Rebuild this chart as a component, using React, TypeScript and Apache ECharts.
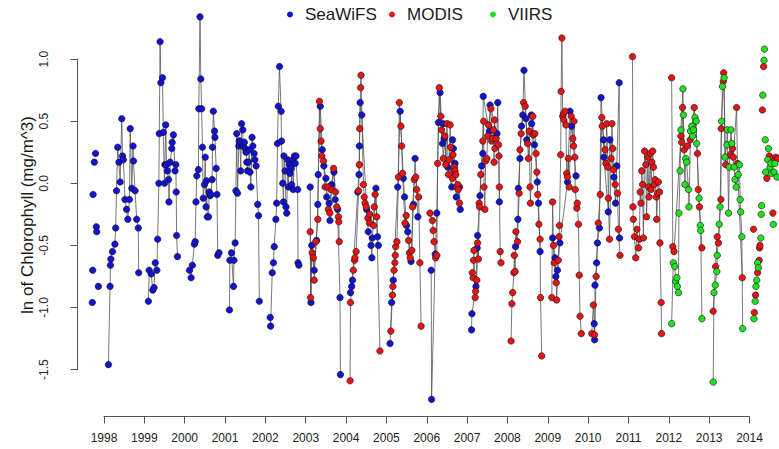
import React, { useEffect, useRef } from "react";
import * as echarts from "echarts";

type P = [number, number];

const seriesNames = ["SeaWiFS", "MODIS", "VIIRS"];
const seriesColors = ["#1212d2", "#e61414", "#22e022"];

// ---- SeaWiFS seasons (decimal year, ln chlorophyll) ----
const seawifs: P[][] = [
  [[1997.71,-0.96],[1997.72,-0.70],[1997.73,-0.09],[1997.76,0.17],[1997.79,0.24],[1997.81,-0.35],[1997.82,-0.39],[1997.86,-0.83]],
  [[1998.11,-1.46],[1998.15,-0.83],[1998.16,-0.66],[1998.17,-0.61],[1998.21,-0.55],[1998.27,-0.49],[1998.29,-0.36],[1998.31,-0.06],[1998.34,0.29],[1998.37,0.17],[1998.40,0.01],[1998.44,0.52],[1998.46,0.22],[1998.48,0.19],[1998.52,-0.13],[1998.56,-0.21],[1998.59,-0.29],[1998.63,-0.13],[1998.65,0.44],[1998.69,-0.04],[1998.72,0.30],[1998.73,0.18],[1998.77,-0.06],[1998.81,-0.29],[1998.85,-0.36],[1998.86,-0.72]],
  [[1999.10,-0.95],[1999.12,-0.70],[1999.17,-0.73],[1999.21,-0.86],[1999.24,-0.84],[1999.27,-0.64],[1999.31,-0.70],[1999.33,-0.45],[1999.36,0.00],[1999.37,0.40],[1999.39,1.14],[1999.41,0.81],[1999.45,0.85],[1999.47,0.41],[1999.50,0.00],[1999.51,0.15],[1999.53,0.47],[1999.55,0.15],[1999.57,0.10],[1999.60,0.03],[1999.61,-0.15],[1999.64,0.17],[1999.68,0.28],[1999.69,0.33],[1999.72,0.39],[1999.76,0.10],[1999.78,0.15],[1999.79,-0.07],[1999.80,-0.42],[1999.82,-0.59]],
  [[2000.12,-0.70],[2000.16,-0.76],[2000.19,-0.66],[2000.24,-0.49],[2000.26,-0.47],[2000.28,-0.15],[2000.30,0.06],[2000.34,0.11],[2000.35,0.60],[2000.38,1.34],[2000.40,0.84],[2000.42,0.60],[2000.44,0.29],[2000.46,-0.12],[2000.49,-0.01],[2000.51,0.21],[2000.53,-0.19],[2000.54,0.02],[2000.56,-0.27],[2000.59,-0.27],[2000.61,-0.07],[2000.63,-0.10],[2000.65,-0.09],[2000.68,0.03],[2000.69,0.29],[2000.71,0.58],[2000.74,0.42],[2000.75,0.37],[2000.78,0.12],[2000.80,-0.09],[2000.82,-0.58],[2000.85,-0.56]],
  [[2001.11,-1.02],[2001.12,-0.62],[2001.16,-0.56],[2001.21,-0.83],[2001.22,-0.62],[2001.25,-0.48],[2001.27,-0.06],[2001.29,0.40],[2001.31,-0.08],[2001.34,0.30],[2001.35,0.34],[2001.37,0.34],[2001.39,0.10],[2001.41,0.48],[2001.44,0.43],[2001.45,0.30],[2001.48,0.33],[2001.50,0.28],[2001.52,0.25],[2001.54,0.17],[2001.56,0.10],[2001.58,0.17],[2001.60,0.27],[2001.62,0.09],[2001.64,-0.03],[2001.67,0.37],[2001.69,0.30],[2001.72,0.24],[2001.74,0.19],[2001.77,0.14],[2001.81,-0.17],[2001.83,-0.26],[2001.85,-0.95]],
  [[2002.12,-1.08],[2002.13,-1.15],[2002.17,-0.72],[2002.20,-0.64],[2002.22,-0.51],[2002.26,-0.29],[2002.28,-0.16],[2002.30,0.32],[2002.32,0.62],[2002.35,0.94],[2002.39,0.58],[2002.40,0.34],[2002.43,0.00],[2002.45,-0.15],[2002.46,0.22],[2002.49,0.10],[2002.51,-0.19],[2002.53,-0.24],[2002.55,0.19],[2002.57,-0.03],[2002.59,0.15],[2002.61,0.08],[2002.64,0.12],[2002.65,-0.01],[2002.68,0.19],[2002.69,-0.05],[2002.72,0.22],[2002.74,0.16],[2002.76,0.22],[2002.80,-0.05],[2002.81,-0.64],[2002.83,-0.66]],
  [[2003.11,-0.03],[2003.13,-0.96],[2003.15,-0.50],[2003.21,-0.70],[2003.27,-0.46],[2003.30,-0.17],[2003.31,0.07],[2003.36,0.62],[2003.41,0.27],[2003.45,0.14],[2003.50,0.04],[2003.52,-0.11],[2003.58,-0.16],[2003.60,-0.30],[2003.64,-0.01],[2003.70,0.09],[2003.73,-0.13],[2003.79,-0.21],[2003.85,-0.92],[2003.86,-1.54]],
  [[2004.11,-0.88],[2004.14,-0.83],[2004.16,-0.78],[2004.29,-0.07],[2004.32,0.07],[2004.33,0.30],[2004.35,0.65],[2004.39,0.55],[2004.51,-0.21],[2004.55,-0.39],[2004.62,-0.50],[2004.64,-0.60],[2004.65,-0.44],[2004.74,-0.04],[2004.78,-0.43],[2004.80,-0.50]],
  [[2005.09,-1.29],[2005.13,-0.96],[2005.17,-0.78],[2005.28,-0.03],[2005.34,0.58],[2005.42,0.04],[2005.45,-0.11],[2005.50,-0.34],[2005.53,-0.39],[2005.61,-0.63],[2005.67,-0.17],[2005.71,0.20],[2005.78,-0.27]],
  [[2006.11,-0.70],[2006.12,-1.74],[2006.21,-0.57],[2006.25,-0.24],[2006.29,0.49],[2006.33,0.73],[2006.39,0.32],[2006.40,0.48],[2006.43,0.36],[2006.52,0.13],[2006.62,-0.03],[2006.64,0.35],[2006.66,0.28],[2006.70,0.16],[2006.73,-0.11],[2006.81,-0.03],[2006.83,-0.21]],
  [[2007.11,-1.18],[2007.12,-1.05],[2007.22,-0.83],[2007.25,-0.52],[2007.26,-0.42],[2007.32,-0.10],[2007.36,0.14],[2007.39,0.24],[2007.40,0.70],[2007.55,0.42],[2007.57,0.63],[2007.74,0.40],[2007.76,0.65],[2007.80,-0.15]],
  [[2008.20,-0.51],[2008.26,-0.29],[2008.27,-0.04],[2008.31,0.20],[2008.35,0.46],[2008.38,0.55],[2008.41,0.91],[2008.46,0.52],[2008.48,0.35],[2008.59,0.55],[2008.60,0.48],[2008.67,0.31],[2008.74,0.01],[2008.77,-0.16],[2008.81,-0.55]],
  [[2009.12,-0.44],[2009.18,-0.60],[2009.20,-0.75],[2009.24,-0.70],[2009.30,-0.48],[2009.49,0.01],[2009.55,0.58],[2009.59,0.46],[2009.70,0.06]],
  [[2010.15,-1.13],[2010.16,-1.26],[2010.17,-0.82],[2010.21,-0.64],[2010.23,-0.48],[2010.28,-0.36],[2010.32,0.69],[2010.38,0.35],[2010.39,0.21],[2010.50,-0.23],[2010.54,0.35],[2010.64,0.05],[2010.68,-0.16],[2010.71,0.14],[2010.77,0.81],[2010.78,-0.44]],
];

// ---- MODIS seasons ----
const modis: P[][] = [
  [[2003.11,-0.39],[2003.12,-0.92],[2003.16,-0.56],[2003.19,-0.60],[2003.21,-0.78],[2003.25,-0.47],[2003.30,-0.29],[2003.34,0.66],[2003.36,0.44],[2003.38,0.34],[2003.40,0.22],[2003.44,0.18],[2003.48,-0.03],[2003.55,-0.03],[2003.56,-0.21],[2003.60,-0.24],[2003.63,-0.05],[2003.69,0.12],[2003.74,-0.07],[2003.77,-0.19],[2003.81,-0.27],[2003.82,-0.31],[2003.83,-0.47]],
  [[2004.10,-1.59],[2004.11,-0.96],[2004.18,-0.70],[2004.21,-0.62],[2004.22,-0.60],[2004.25,-0.55],[2004.31,-0.06],[2004.33,0.15],[2004.34,0.44],[2004.36,0.77],[2004.37,0.87],[2004.43,-0.01],[2004.45,-0.11],[2004.47,-0.16],[2004.50,-0.19],[2004.54,-0.28],[2004.58,-0.32],[2004.59,-0.25],[2004.68,-0.34],[2004.70,-0.19],[2004.72,-0.09],[2004.76,-0.27],[2004.84,-1.35]],
  [[2005.11,-1.19],[2005.15,-0.90],[2005.16,-0.83],[2005.19,-0.70],[2005.21,-0.64],[2005.22,-0.58],[2005.23,-0.51],[2005.26,-0.47],[2005.30,0.05],[2005.32,0.65],[2005.36,0.46],[2005.38,0.30],[2005.40,0.08],[2005.46,-0.32],[2005.49,-0.26],[2005.55,-0.46],[2005.57,-0.56],[2005.59,-0.60],[2005.63,-0.54],[2005.65,-0.19],[2005.69,0.03],[2005.73,0.05],[2005.75,-0.05],[2005.80,-0.11],[2005.83,-0.64],[2005.86,-1.15]],
  [[2006.08,-0.24],[2006.14,-0.30],[2006.16,-0.38],[2006.18,-0.47],[2006.22,-0.60],[2006.25,-0.58],[2006.27,0.16],[2006.31,0.77],[2006.35,0.54],[2006.37,0.43],[2006.41,0.20],[2006.45,0.38],[2006.47,0.15],[2006.50,0.48],[2006.54,0.07],[2006.56,0.19],[2006.58,0.47],[2006.59,0.29],[2006.64,0.04],[2006.65,0.23],[2006.66,0.11],[2006.69,0.13],[2006.70,0.10],[2006.72,0.07],[2006.74,-0.03],[2006.77,-0.01],[2006.78,-0.05],[2006.81,-0.16]],
  [[2007.13,-0.72],[2007.15,-0.76],[2007.16,-0.62],[2007.17,-0.54],[2007.20,-0.92],[2007.21,-0.87],[2007.24,-0.78],[2007.26,-0.48],[2007.28,-0.61],[2007.30,-0.16],[2007.31,-0.19],[2007.34,0.07],[2007.39,0.34],[2007.41,0.50],[2007.42,-0.03],[2007.44,-0.21],[2007.46,0.18],[2007.49,0.20],[2007.51,0.38],[2007.53,0.47],[2007.59,0.60],[2007.61,0.34],[2007.63,0.36],[2007.65,0.43],[2007.67,0.17],[2007.68,0.51],[2007.69,0.28],[2007.72,0.36],[2007.78,0.31],[2007.79,0.22],[2007.80,-0.03],[2007.82,-0.55],[2007.84,-0.64]],
  [[2008.09,-1.27],[2008.11,-0.97],[2008.13,-0.88],[2008.16,-0.72],[2008.17,-0.58],[2008.19,-0.71],[2008.21,-0.39],[2008.25,-0.47],[2008.29,-0.08],[2008.31,0.27],[2008.34,0.40],[2008.40,0.65],[2008.44,0.62],[2008.50,0.32],[2008.52,0.20],[2008.54,0.42],[2008.56,-0.03],[2008.57,-0.16],[2008.63,0.54],[2008.64,0.39],[2008.68,0.40],[2008.71,0.24],[2008.73,0.09],[2008.75,-0.09],[2008.78,-0.33],[2008.81,-0.45],[2008.82,-0.92],[2008.85,-1.39]],
  [[2009.10,-0.92],[2009.12,-0.15],[2009.14,-0.50],[2009.16,-0.64],[2009.21,-0.80],[2009.22,-0.94],[2009.26,-0.62],[2009.28,-0.43],[2009.29,-0.34],[2009.32,0.23],[2009.33,0.74],[2009.35,1.17],[2009.37,0.54],[2009.39,0.56],[2009.40,0.51],[2009.43,0.58],[2009.45,0.47],[2009.47,0.08],[2009.49,0.05],[2009.51,0.20],[2009.53,-0.03],[2009.58,0.54],[2009.62,0.36],[2009.64,0.30],[2009.65,0.50],[2009.67,0.21],[2009.68,-0.05],[2009.72,-0.20],[2009.73,-0.16],[2009.76,-0.33],[2009.78,-0.74],[2009.80,-1.07],[2009.83,-1.21]],
  [[2010.09,-1.21],[2010.13,-0.98],[2010.16,-1.22],[2010.20,-0.75],[2010.25,-0.32],[2010.30,-0.09],[2010.34,0.53],[2010.35,0.46],[2010.42,0.27],[2010.44,0.16],[2010.46,0.48],[2010.49,0.13],[2010.50,-0.12],[2010.53,-0.45],[2010.57,0.20],[2010.59,0.48],[2010.61,0.28],[2010.63,0.11],[2010.67,-0.01],[2010.73,-0.08],[2010.75,-0.37],[2010.79,-0.58]],
  [[2011.10,1.02],[2011.11,-0.19],[2011.12,-0.29],[2011.15,-0.43],[2011.18,-0.60],[2011.21,-0.37],[2011.25,-0.52],[2011.27,-0.45],[2011.29,-0.07],[2011.31,-0.16],[2011.33,0.10],[2011.35,-0.01],[2011.37,-0.44],[2011.40,0.26],[2011.43,0.15],[2011.45,-0.27],[2011.48,0.21],[2011.50,-0.03],[2011.51,-0.11],[2011.54,0.24],[2011.56,-0.05],[2011.58,0.17],[2011.60,0.26],[2011.62,0.13],[2011.64,-0.01],[2011.66,0.03],[2011.69,-0.11],[2011.70,-0.29],[2011.72,-0.08],[2011.74,0.01],[2011.77,-0.07],[2011.78,-0.48],[2011.81,-0.96],[2011.82,-1.21]],
  [[2012.07,0.85],[2012.10,-0.51],[2012.13,-0.55],[2012.30,0.38],[2012.32,0.33],[2012.34,0.61],[2012.38,0.27],[2012.46,0.30],[2012.53,0.35],[2012.63,0.61],[2012.71,0.24],[2012.73,-0.05],[2012.76,-0.19],[2012.82,-0.52]],
  [[2013.10,-1.03],[2013.16,-0.67],[2013.20,-0.43],[2013.23,-0.48],[2013.29,-0.13],[2013.30,0.44],[2013.35,0.82],[2013.36,0.89],[2013.41,0.15],[2013.52,0.23],[2013.58,0.28],[2013.60,0.21],[2013.68,0.61],[2013.70,0.16],[2013.82,-0.76]],
  [[2014.10,-0.37],[2014.12,-1.04],[2014.15,-0.90],[2014.20,-0.72],[2014.24,-0.62],[2014.25,-0.52],[2014.26,-0.50],[2014.32,0.59],[2014.35,0.94],[2014.43,0.04],[2014.49,0.22],[2014.57,0.20],[2014.58,-0.24],[2014.65,0.21],[2014.70,0.20]],
];

// ---- VIIRS seasons ----
const viirs: P[][] = [
  [[2012.07,-1.13],[2012.11,-0.64],[2012.15,-0.67],[2012.17,-0.79],[2012.20,-0.76],[2012.21,-0.83],[2012.24,-0.88],[2012.25,-0.24],[2012.28,0.10],[2012.30,0.43],[2012.35,0.76],[2012.36,0.55],[2012.40,-0.01],[2012.42,0.20],[2012.44,0.17],[2012.49,-0.05],[2012.50,-0.19],[2012.54,0.42],[2012.57,0.46],[2012.59,0.38],[2012.61,0.43],[2012.65,0.53],[2012.68,0.50],[2012.69,0.32],[2012.75,-0.12],[2012.78,-0.34],[2012.79,-0.38],[2012.82,-1.09]],
  [[2013.10,-1.60],[2013.12,-0.88],[2013.15,-0.82],[2013.19,-0.71],[2013.20,-0.58],[2013.25,-0.33],[2013.27,-0.19],[2013.31,0.50],[2013.33,0.78],[2013.37,0.85],[2013.39,0.21],[2013.44,0.31],[2013.45,0.43],[2013.48,-0.24],[2013.50,0.13],[2013.54,0.43],[2013.56,0.32],[2013.62,0.13],[2013.64,0.03],[2013.67,-0.03],[2013.72,0.07],[2013.75,0.15],[2013.77,-0.13],[2013.78,-0.23],[2013.81,-0.43],[2013.83,-1.17]],
  [[2014.11,-1.09],[2014.14,-0.95],[2014.16,-0.83],[2014.18,-0.78],[2014.20,-0.64],[2014.22,-0.68],[2014.28,-0.44],[2014.29,-0.25],[2014.30,-0.18],[2014.33,0.71],[2014.36,0.99],[2014.37,1.08],[2014.39,0.35],[2014.40,0.09],[2014.45,0.19],[2014.47,0.28],[2014.51,0.13],[2014.53,0.16],[2014.55,0.08],[2014.59,-0.33],[2014.61,0.09],[2014.63,0.16],[2014.68,0.05]],
];

const allSeries = [seawifs, modis, viirs];

const yearMin = 1998;
const yearMax = 2014;
const yMin = -1.5;
const yMax = 1.0;
const yStep = 0.5;
const yTitle = "ln of Chlorophyll (mg/m^3)";

const FONT = "'Liberation Sans', Arial, Helvetica, sans-serif";
const legendLefts = [287, 389, 490];

function withBreaks(seasons: P[][]) {
  const out: any[] = [];
  seasons.forEach((s, i) => {
    if (i > 0) out.push(["-", "-"]);
    s.forEach((p) => out.push(p));
  });
  return out;
}

export default function App() {
  const ref = useRef<HTMLDivElement>(null);
  useEffect(() => {
    if (!ref.current) return;
    const chart = echarts.init(ref.current, null, { renderer: "svg" });
    const lineSeries = allSeries.map((seasons, i) => ({
      type: "line",
      id: "line-" + i,
      data: withBreaks(seasons),
      symbol: "none",
      showSymbol: false,
      connectNulls: false,
      clip: false,
      silent: true,
      z: 2,
      lineStyle: { color: "#555", width: 0.8 },
    }));
    const pointSeries = allSeries.map((seasons, i) => ({
      type: "scatter",
      name: seriesNames[i],
      data: seasons.flat(),
      symbol: "circle",
      symbolSize: 6.5,
      clip: false,
      silent: true,
      z: 3 + i,
      itemStyle: { color: seriesColors[i], borderColor: "#111", borderWidth: 0.6, opacity: 1 },
    }));
    chart.setOption({
      animation: false,
      backgroundColor: "#ffffff",
      textStyle: { fontFamily: FONT },
      grid: { left: 104, right: 29.5, top: 59.1, bottom: 79.4, containLabel: false, outerBoundsMode: "none" },
      xAxis: {
        type: "value",
        min: yearMin,
        max: yearMax,
        interval: 1,
        offset: 47,
        axisLine: { show: true, onZero: false, lineStyle: { color: "#555", width: 1 } },
        axisTick: { show: true, length: 7, lineStyle: { color: "#555", width: 1 } },
        axisLabel: { margin: 15, fontSize: 12, color: "#222", fontFamily: FONT, formatter: (v: number) => String(v) },
        splitLine: { show: false },
      },
      yAxis: {
        type: "value",
        min: yMin,
        max: yMax,
        interval: yStep,
        offset: 26.5,
        axisLine: { show: true, onZero: false, lineStyle: { color: "#555", width: 1 } },
        axisTick: { show: true, length: 7, lineStyle: { color: "#555", width: 1 } },
        axisLabel: { rotate: 90, margin: 28, fontSize: 12, color: "#222", fontFamily: FONT, formatter: (v: number) => v.toFixed(1) },
        splitLine: { show: false },
      },
      legend: seriesNames.map((n, i) => ({
        data: [{ name: n, icon: "circle" }],
        left: legendLefts[i],
        top: 6,
        padding: 0,
        itemWidth: 20,
        itemHeight: 6,
        selectedMode: false,
        itemStyle: { borderWidth: 0 },
        textStyle: { fontSize: 17, color: "#1a1a1a", fontFamily: FONT },
      })),
      graphic: [
        {
          type: "text",
          x: 27,
          y: 215,
          rotation: Math.PI / 2,
          style: {
            text: yTitle,
            fontSize: 17,
            fontFamily: FONT,
            fill: "#1a1a1a",
            align: "center",
            verticalAlign: "middle",
            textAlign: "center",
            textVerticalAlign: "middle",
          },
        },
      ],
      series: [...lineSeries, ...pointSeries],
    });
    return () => chart.dispose();
  }, []);
  return <div ref={ref} style={{ position: "absolute", left: 0, top: 0, width: 779, height: 449 }} />;
}
